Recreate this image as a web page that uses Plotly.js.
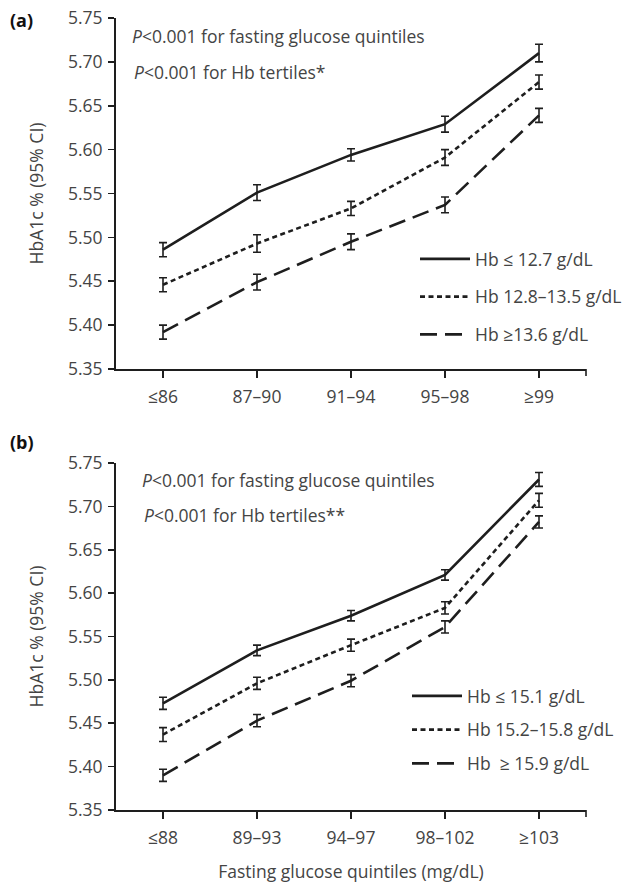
<!DOCTYPE html>
<html><head><meta charset="utf-8">
<script src="https://cdn.plot.ly/plotly-3.0.1.min.js"></script>
<style>html,body{margin:0;padding:0;background:#fff}#chart{width:635px;height:883px}</style>
</head><body><div id="chart"></div>
<script>
// Panel (a)
const catsA = ['≤86','87–90','91–94','95–98','≥99'];
const namesA = ['Hb ≤ 12.7 g/dL','Hb 12.8–13.5 g/dL','Hb ≥13.6 g/dL'];
const aLow  = [5.486, 5.551, 5.594, 5.629, 5.710];
const aMid  = [5.446, 5.493, 5.533, 5.591, 5.677];
const aHigh = [5.392, 5.449, 5.495, 5.537, 5.639];
const aLowErr  = [0.008, 0.009, 0.007, 0.009, 0.010];
const aMidErr  = [0.008, 0.010, 0.008, 0.009, 0.008];
const aHighErr = [0.008, 0.009, 0.009, 0.009, 0.008];
// Panel (b)
const catsB = ['≤88','89–93','94–97','98–102','≥103'];
const namesB = ['Hb ≤ 15.1 g/dL','Hb 15.2–15.8 g/dL','Hb  ≥ 15.9 g/dL'];
const bLow  = [5.473, 5.534, 5.574, 5.621, 5.731];
const bMid  = [5.437, 5.496, 5.540, 5.583, 5.707];
const bHigh = [5.390, 5.453, 5.499, 5.561, 5.682];
const bLowErr  = [0.007, 0.006, 0.006, 0.006, 0.008];
const bMidErr  = [0.008, 0.007, 0.007, 0.007, 0.008];
const bHighErr = [0.007, 0.007, 0.007, 0.007, 0.007];
const yTicks = [5.35,5.40,5.45,5.50,5.55,5.60,5.65,5.70,5.75];

const INK = '#1e1e1e', TXT = '#444', FONT = 'Open Sans, Noto Sans, sans-serif';
const FS = 17.5;
const dashes = ['solid', '5px,3.5px', '17px,8px'];

function tr(x, y, err, name, k, xa, ya, leg) {
  return {x: x, y: y, name: name, type: 'scatter', mode: 'lines', xaxis: xa, yaxis: ya,
    legend: leg, legendgroup: leg + k,
    line: {color: INK, width: 2.6, dash: dashes[k]},
    error_y: {type: 'data', array: err, visible: true, color: INK, thickness: 1.6, width: 4}};
}
const data = [
  tr(catsA, aLow, aLowErr, namesA[0], 0, 'x', 'y', 'legend'),
  tr(catsA, aMid, aMidErr, namesA[1], 1, 'x', 'y', 'legend'),
  tr(catsA, aHigh, aHighErr, namesA[2], 2, 'x', 'y', 'legend'),
  tr(catsB, bLow, bLowErr, namesB[0], 0, 'x2', 'y2', 'legend2'),
  tr(catsB, bMid, bMidErr, namesB[1], 1, 'x2', 'y2', 'legend2'),
  tr(catsB, bHigh, bHighErr, namesB[2], 2, 'x2', 'y2', 'legend2')
];

const W = 635, H = 883;
const xd = [116/W, 586/W];
const yaAx = {range: [5.35, 5.75], tickvals: yTicks, ticktext: yTicks.map(v => v.toFixed(2)),
  showline: true, linecolor: INK, linewidth: 2, ticks: 'outside', ticklen: 6, tickwidth: 1.6, tickcolor: INK,
  showgrid: false, zeroline: false, tickfont: {size: FS, color: TXT, family: FONT}, ticklabelstandoff: 2,
  title: {text: 'HbA1c % (95% CI)', font: {size: FS, color: TXT, family: FONT}, standoff: 20}};
const xAx = {type: 'category', range: [-0.5, 4.5], showline: true, linecolor: INK, linewidth: 2,
  ticks: 'outside', ticklen: 7, tickwidth: 1.6, tickcolor: INK, showgrid: false, zeroline: false,
  tickfont: {size: FS, color: TXT, family: FONT}, ticklabelstandoff: 4, domain: xd};

const legBase = {bgcolor: 'rgba(0,0,0,0)', font: {size: FS, color: TXT, family: FONT},
  xanchor: 'left', yanchor: 'top', itemwidth: 50};

function ann(text, x, y, extra) {
  return Object.assign({text: text, xref: 'paper', yref: 'paper', x: x/W, y: 1 - y/H,
    xanchor: 'left', yanchor: 'middle', showarrow: false, font: {size: FS, color: TXT, family: FONT}}, extra || {});
}

const layout = {
  width: W, height: H, margin: {l: 0, r: 0, t: 0, b: 0}, paper_bgcolor: '#fff', plot_bgcolor: '#fff',
  font: {family: FONT, color: TXT},
  showlegend: true,
  xaxis: Object.assign({}, xAx, {anchor: 'y'}),
  yaxis: Object.assign({}, yaAx, {domain: [1 - 369/H, 1 - 18/H], anchor: 'x'}),
  xaxis2: Object.assign({}, xAx, {anchor: 'y2',
    title: {text: 'Fasting glucose quintiles (mg/dL)', font: {size: FS, color: TXT, family: FONT}, standoff: 22}}),
  yaxis2: Object.assign({}, yaAx, {domain: [1 - 810/H, 1 - 463/H], anchor: 'x2'}),
  legend: Object.assign({}, legBase, {x: 415/W, y: 1 - 241/H, tracegroupgap: 12}),
  legend2: Object.assign({}, legBase, {x: 407/W, y: 1 - 678/H, tracegroupgap: 8}),
  shapes: [
    {type: 'line', xref: 'paper', yref: 'paper', x0: xd[1], x1: xd[1], y0: 1 - 369/H, y1: 1 - 376/H, line: {color: INK, width: 1.6}},
    {type: 'line', xref: 'paper', yref: 'paper', x0: xd[1], x1: xd[1], y0: 1 - 810/H, y1: 1 - 817/H, line: {color: INK, width: 1.6}}
  ],
  annotations: [
    ann('<b>(a)</b>', 8, 20, {font: {size: 18, color: '#111', family: FONT}}),
    ann('<b>(b)</b>', 8, 442, {font: {size: 18, color: '#111', family: FONT}}),
    ann('<i>P</i>&lt;0.001 for fasting glucose quintiles', 130, 36),
    ann('<i>P</i>&lt;0.001 for Hb tertiles*', 132, 72),
    ann('<i>P</i>&lt;0.001 for fasting glucose quintiles', 140, 480),
    ann('<i>P</i>&lt;0.001 for Hb tertiles**', 142, 515)
  ]
};
Plotly.newPlot('chart', data, layout, {displayModeBar: false, staticPlot: true});
</script></body></html>
